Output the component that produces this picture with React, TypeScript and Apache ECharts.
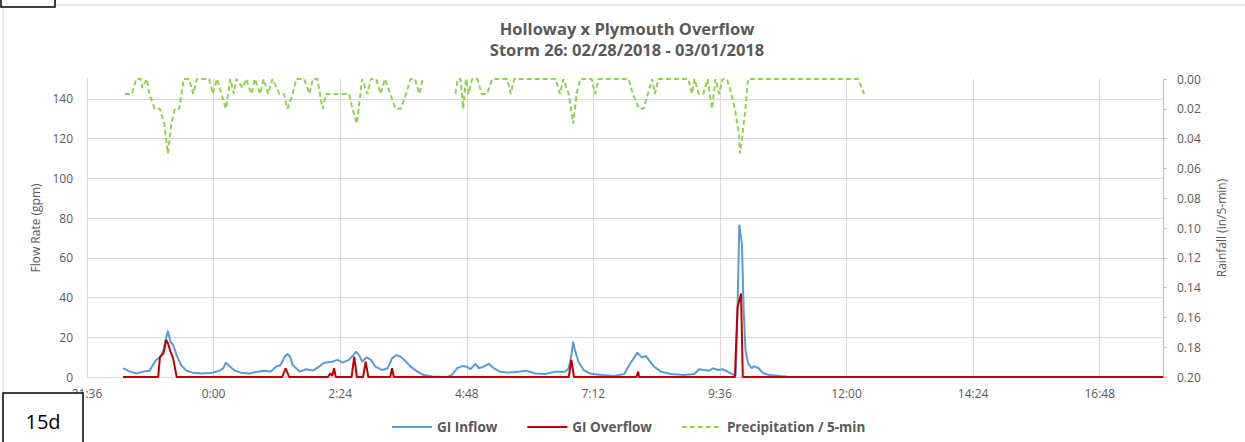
import React, { useEffect, useRef } from "react";
import * as echarts from "echarts";

// x values: minutes since 02/28/2018 00:00
const xMin = 1296; // 21:36
const xMax = 2520; // 18:00 next day
const xInterval = 144;

const inflow: [number, number][] = [
  [1337, 4.3], [1345, 2.7], [1352, 1.8], [1360, 2.7], [1367, 3.2], [1371, 6], [1375, 8.6], [1380, 10.2],
  [1383, 13.6], [1385, 17.8], [1388, 23.3], [1391, 17.8], [1394, 16], [1398, 11], [1403, 6], [1409, 3.2],
  [1416, 2.2], [1428, 1.8], [1439, 2.2], [1447, 3.2], [1451, 4.4], [1454, 7.2], [1459, 5.2], [1464, 3.2],
  [1471, 2.2], [1481, 1.8], [1490, 2.7], [1498, 3.2], [1505, 2.7], [1511, 5.2], [1516, 6], [1521, 10.2],
  [1524, 11.6], [1527, 10.2], [1530, 6], [1538, 2.7], [1545, 3.9], [1553, 3.2], [1560, 5.2], [1566, 7.2],
  [1575, 7.7], [1581, 8.6], [1587, 7.2], [1594, 8.6], [1600, 11.6], [1602, 12.8], [1606, 10.6], [1609, 7.7],
  [1614, 9.9], [1619, 8.6], [1624, 5.2], [1632, 3.5], [1638, 4.4], [1643, 9.4], [1648, 11], [1653, 10.2],
  [1659, 7.7], [1664, 5.2], [1672, 2.7], [1679, 1.0], [1689, 0.2], [1706, 0], [1711, 1.0], [1717, 4.4],
  [1723, 5.5], [1728, 5.2], [1732, 3.9], [1738, 6.6], [1742, 4.4], [1747, 5.2], [1753, 6.6], [1759, 4.4],
  [1766, 2.7], [1775, 2.2], [1787, 2.7], [1796, 3.2], [1806, 1.8], [1817, 1.5], [1829, 2.7], [1840, 2.7],
  [1844, 4.4], [1847, 11], [1849, 17.8], [1851, 13.6], [1855, 7.7], [1861, 3.5], [1868, 1.8], [1881, 1.0],
  [1896, 0.5], [1907, 1.5], [1913, 6], [1919, 10.2], [1922, 12.3], [1927, 9.9], [1932, 10.6], [1935, 8.6],
  [1941, 5.2], [1949, 2.7], [1960, 1.5], [1975, 1.0], [1987, 1.5], [1992, 3.9], [1998, 3.5], [2004, 3.2],
  [2008, 4.4], [2014, 3.5], [2019, 3.9], [2027, 2.2], [2032, 1.0], [2034, 1.0], [2036, 33.8], [2038, 76.6],
  [2041, 67], [2043, 33.8], [2045, 13.6], [2048, 6.9], [2052, 4.4], [2055, 5.5], [2060, 4.4], [2065, 2],
  [2072, 1], [2085, 0.5], [2093, 0.3],
];

const overflow: [number, number][] = [
  [1337, 0], [1377, 0], [1379, 10.2], [1383, 11.9], [1386, 18.6], [1388, 17], [1391, 12.8], [1394, 9.4],
  [1398, 0], [1518, 0], [1522, 4.4], [1526, 0], [1570, 0], [1573, 1.8], [1575, 0.5], [1577, 4.4], [1579, 0],
  [1597, 0], [1600, 10.2], [1603, 0], [1610, 0], [1613, 7.7], [1616, 0], [1641, 0], [1643, 4.4], [1645, 0],
  [1844, 0], [1847, 8.6], [1850, 0], [1921, 0], [1923, 2.7], [1924, 0], [2033, 0], [2036, 35], [2040, 42],
  [2042, 0], [2520, 0],
];

const precip: [number, number | null][] = [
  [1339, 0.01], [1347, 0.01], [1352, 0], [1357, 0], [1359, 0.006], [1364, 0], [1367, 0.01], [1373, 0.02],
  [1379, 0.02], [1384, 0.03], [1388, 0.05], [1392, 0.03], [1396, 0.02], [1401, 0.02], [1406, 0], [1412, 0],
  [1417, 0.01], [1421, 0], [1435, 0], [1439, 0.01], [1444, 0], [1449, 0.01], [1454, 0.02], [1459, 0],
  [1463, 0.01], [1466, 0], [1473, 0.006], [1477, 0], [1483, 0.01], [1487, 0], [1493, 0.01], [1497, 0],
  [1502, 0.01], [1507, 0], [1515, 0.01], [1520, 0.01], [1524, 0.02], [1530, 0.01], [1534, 0], [1543, 0],
  [1549, 0.01], [1553, 0], [1558, 0], [1564, 0.02], [1568, 0.01], [1594, 0.01], [1598, 0.02], [1603, 0.03],
  [1609, 0], [1615, 0.01], [1619, 0], [1625, 0], [1630, 0.01], [1635, 0], [1641, 0.01], [1647, 0.02],
  [1653, 0.02], [1659, 0.01], [1664, 0], [1669, 0], [1674, 0.01], [1678, 0], [1696, null], [1715, 0.01],
  [1718, 0], [1721, 0], [1724, 0.02], [1727, 0], [1730, 0.01], [1734, 0], [1740, 0], [1745, 0.01],
  [1751, 0.01], [1757, 0], [1774, 0], [1778, 0.01], [1782, 0], [1829, 0], [1834, 0.01], [1838, 0],
  [1844, 0.01], [1849, 0.03], [1853, 0.01], [1857, 0], [1870, 0], [1874, 0.01], [1878, 0], [1912, 0],
  [1917, 0.01], [1924, 0.02], [1929, 0.02], [1934, 0.01], [1939, 0], [1942, 0.01], [1946, 0], [1980, 0],
  [1984, 0.01], [1987, 0], [1992, 0.01], [1997, 0.01], [2002, 0], [2007, 0.02], [2011, 0], [2015, 0.01],
  [2019, 0], [2024, 0], [2029, 0.01], [2033, 0.02], [2037, 0.035], [2039, 0.05], [2042, 0.035], [2045, 0.02],
  [2048, 0], [2173, 0], [2180, 0.01],
];

const titleLines = ["Holloway x Plymouth Overflow", "Storm 26: 02/28/2018 - 03/01/2018"];
const seriesNames = ["GI Inflow", "GI Overflow", "Precipitation / 5-min"];
const leftAxisName = "Flow Rate (gpm)";
const rightAxisName = "Rainfall (in/5-min)";
const panelLabel = "15d";

const FONT = "'Open Sans', sans-serif";
const GREY = "#595959";

function fmtTime(v: number): string {
  const total = Math.round(v);
  const h = Math.floor(total / 60) % 24;
  const m = total % 60;
  return `${h}:${m < 10 ? "0" + m : m}`;
}

export default function App() {
  const ref = useRef<HTMLDivElement>(null);
  useEffect(() => {
    if (!ref.current) return;
    const chart = echarts.init(ref.current, undefined, { renderer: "svg" });
    chart.setOption({
      animation: false,
      backgroundColor: "#ffffff",
      textStyle: { fontFamily: FONT },
      grid: { left: 87, right: 82, top: 79, bottom: 65 },
      legend: {
        left: 386,
        top: 415,
        itemWidth: 40,
        itemHeight: 10,
        itemGap: 29,
        data: seriesNames,
        itemStyle: { opacity: 0 },
        textStyle: { fontFamily: FONT, fontSize: 13.5, fontWeight: "bold", color: GREY },
      },
      xAxis: {
        type: "value",
        min: xMin,
        max: xMax,
        interval: xInterval,
        axisLine: { show: true, lineStyle: { color: "#d9d9d9" } },
        axisTick: { show: false },
        axisLabel: {
          formatter: fmtTime,
          color: GREY,
          fontSize: 12,
          margin: 10,
          showMaxLabel: false,
          fontFamily: FONT,
        },
        splitLine: { show: true, showMaxLine: false, lineStyle: { color: "#d9d9d9", width: 1 } },
      },
      yAxis: [
        {
          type: "value",
          min: 0,
          max: 150,
          interval: 20,
          name: leftAxisName,
          nameLocation: "middle",
          nameRotate: 90,
          nameGap: 46,
          nameTextStyle: { color: GREY, fontSize: 12, fontFamily: FONT },
          axisLine: { show: true, lineStyle: { color: "#d9d9d9" } },
          axisTick: { show: false },
          axisLabel: { color: GREY, fontSize: 12, margin: 14, showMaxLabel: false, fontFamily: FONT },
          splitLine: { show: true, showMaxLine: false, lineStyle: { color: "#d9d9d9", width: 1 } },
        },
        {
          type: "value",
          min: 0,
          max: 0.2,
          interval: 0.02,
          inverse: true,
          position: "right",
          name: rightAxisName,
          nameLocation: "middle",
          nameRotate: 90,
          nameGap: 52,
          nameTextStyle: { color: GREY, fontSize: 12, fontFamily: FONT },
          axisLine: { show: true, lineStyle: { color: "#bfbfbf" } },
          axisTick: { show: true, length: 4, inside: false, lineStyle: { color: "#bfbfbf" } },
          axisLabel: {
            color: GREY,
            fontSize: 12,
            margin: 14,
            fontFamily: FONT,
            formatter: (v: number) => v.toFixed(2),
          },
          splitLine: { show: false },
        },
      ],
      series: [
        {
          name: seriesNames[0],
          type: "line",
          data: inflow,
          yAxisIndex: 0,
          symbol: "none",
          lineStyle: { color: "#5b9bd5", width: 2 },
          itemStyle: { color: "#5b9bd5" },
          z: 2,
        },
        {
          name: seriesNames[1],
          type: "line",
          data: overflow,
          yAxisIndex: 0,
          symbol: "none",
          lineStyle: { color: "#c00000", width: 2 },
          itemStyle: { color: "#c00000" },
          z: 3,
        },
        {
          name: seriesNames[2],
          type: "line",
          data: precip,
          yAxisIndex: 1,
          symbol: "none",
          connectNulls: false,
          lineStyle: { color: "#92d050", width: 2, type: [5, 3] },
          itemStyle: { color: "#92d050" },
          z: 4,
        },
      ],
      graphic: [
        {
          type: "rect",
          shape: { x: 3, y: 5, width: 1260, height: 460 },
          style: { fill: "none", stroke: "#d0d0d0", lineWidth: 1 },
          silent: true,
          z: -10,
        },
        {
          type: "rect",
          shape: { x: 1, y: -10, width: 54, height: 17 },
          style: { fill: "#ffffff", stroke: "#000000", lineWidth: 1.5 },
          silent: true,
          z: 100,
        },
        {
          type: "text",
          x: 627,
          y: 28,
          style: {
            text: titleLines[0],
            fill: GREY,
            font: `bold 16.5px ${FONT}`,
            textAlign: "center",
            textVerticalAlign: "middle",
          },
        },
        {
          type: "text",
          x: 627,
          y: 49,
          style: {
            text: titleLines[1],
            fill: GREY,
            font: `bold 16.5px ${FONT}`,
            textAlign: "center",
            textVerticalAlign: "middle",
          },
        },
        {
          type: "rect",
          shape: { x: 3, y: 393, width: 80, height: 60 },
          style: { fill: "#ffffff", stroke: "#000000", lineWidth: 1.5 },
          silent: true,
          z: 100,
        },
        {
          type: "text",
          x: 43,
          y: 421,
          z: 101,
          style: {
            text: panelLabel,
            fill: "#000000",
            font: `20px ${FONT}`,
            textAlign: "center",
            textVerticalAlign: "middle",
          },
        },
      ],
    });
    return () => chart.dispose();
  }, []);
  return (
    <div
      ref={ref}
      style={{ position: "fixed", left: 0, top: 0, width: 1245, height: 442 }}
    />
  );
}
